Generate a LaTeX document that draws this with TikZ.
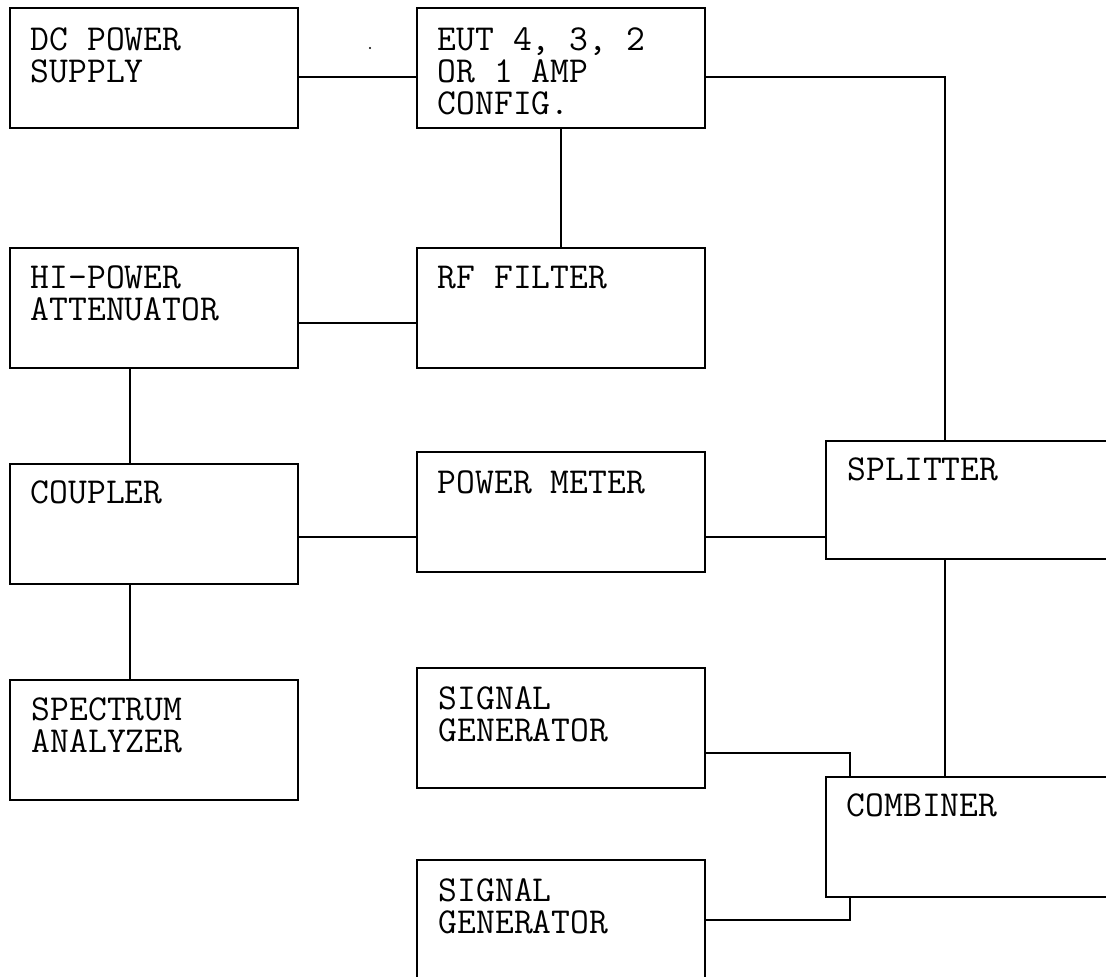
\documentclass[tikz,border=0pt]{standalone}
\usepackage{fontspec}
\usepackage{tikz}
\usetikzlibrary{positioning}

\begin{document}
\begin{tikzpicture}[x=0.025cm,y=-0.025cm,line width=1.2pt,
  blk/.style={draw,anchor=north west,inner sep=0pt,outer sep=0pt,minimum width=7.2cm,minimum height=3cm},
  wideblk/.style={blk,minimum width=12cm},
  lbl/.style={anchor=north west,inner sep=0pt,align=left,font=\ttfamily\fontsize{26pt}{22.8pt}\selectfont}]
\clip (0,0) rectangle (1106,977);
\node[blk] (dc) at (10,8) {};
\node[blk] (eut) at (417,8) {};
\node[blk] (att) at (10,248) {};
\node[blk] (rf) at (417,248) {};
\node[blk] (cpl) at (10,464) {};
\node[blk] (pm) at (417,452) {};
\node[wideblk,minimum height=2.95cm] (split) at (826,441) {};
\node[blk] (spec) at (10,680) {};
\node[blk] (gen1) at (417,668) {};
\node[blk] (gen2) at (417,860) {};
\node[wideblk] (comb) at (826,777) {};
\node[lbl] (dctxt) at ([shift={(20,19)}]dc.north west) {DC POWER\\SUPPLY};
\node[lbl] (euttxt) at ([shift={(20,19)}]eut.north west) {EUT 4, 3, 2\\OR 1 AMP\\CONFIG.};
\node[lbl] (atttxt) at ([shift={(20,17)}]att.north west) {HI-POWER\\ATTENUATOR};
\node[lbl] (rftxt) at ([shift={(20,17)}]rf.north west) {RF FILTER};
\node[lbl] (cpltxt) at ([shift={(20,16)}]cpl.north west) {COUPLER};
\node[lbl] (pmtxt) at ([shift={(20,18)}]pm.north west) {POWER METER};
\node[lbl] (splittxt) at ([shift={(21,16)}]split.north west) {SPLITTER};
\node[lbl] (spectxt) at ([shift={(21,17)}]spec.north west) {SPECTRUM\\ANALYZER};
\node[lbl] (gen1txt) at ([shift={(21,18)}]gen1.north west) {SIGNAL\\GENERATOR};
\node[lbl] (gen2txt) at ([shift={(21,18)}]gen2.north west) {SIGNAL\\GENERATOR};
\node[lbl] (combtxt) at ([shift={(20,16)}]comb.north west) {COMBINER};
\fill (370,48) circle (1.2);
\draw ([yshift=-0.225cm]dc.east) -- ([yshift=-0.225cm]dc.east -| eut.west);
\draw ([yshift=-0.225cm]eut.east) -| ([xshift=2.975cm]split.north west);
\draw (eut.south) -- (rf.north);
\draw ([yshift=-0.375cm]att.east) -- ([yshift=-0.375cm]att.east -| rf.west);
\draw ([xshift=-0.6cm]att.south) -- ([xshift=-0.6cm]cpl.north);
\draw ([yshift=-0.325cm]cpl.east) -- ([yshift=-0.325cm]cpl.east -| pm.west);
\draw ([yshift=-0.625cm]pm.east) -- ([yshift=-0.625cm]pm.east -| split.west);
\draw ([xshift=2.975cm]split.south west) -- ([xshift=2.975cm]comb.north west);
\draw ([xshift=-0.6cm]cpl.south) -- ([xshift=-0.6cm]spec.north);
\draw ([yshift=-0.625cm]gen1.east) -| ([xshift=0.6cm]comb.north west);
\draw (gen2.east) -| ([xshift=0.6cm]comb.south west);
\end{tikzpicture}
\end{document}
